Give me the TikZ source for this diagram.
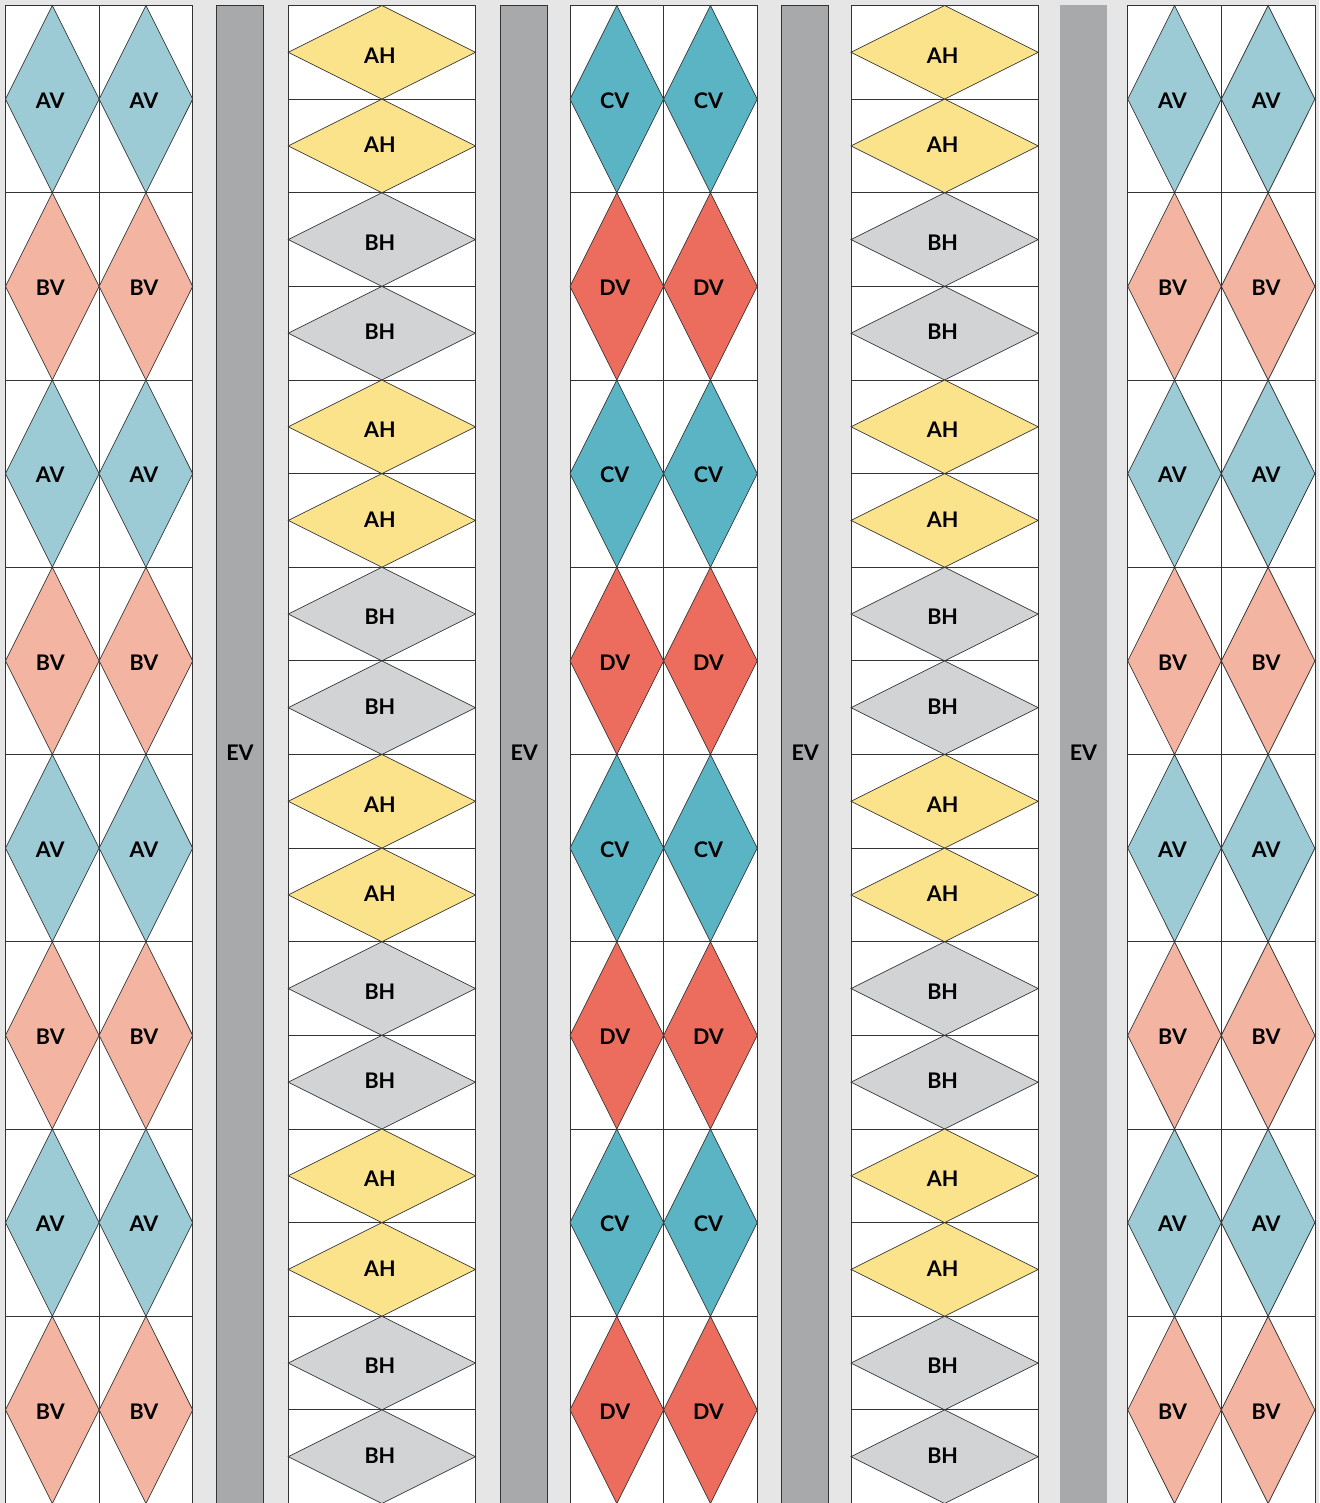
\documentclass[tikz,border=0pt]{standalone}
\usepackage{fontspec}
\setmainfont{Lato}
\usetikzlibrary{positioning}
\definecolor{bggray}{HTML}{E6E6E6}
\definecolor{evgray}{HTML}{A8A9AB}
\definecolor{avblue}{HTML}{9CCAD5}
\definecolor{bvsalmon}{HTML}{F4B4A2}
\definecolor{cvteal}{HTML}{5AB4C4}
\definecolor{dvred}{HTML}{EC6D5D}
\definecolor{ahyellow}{HTML}{FBE38B}
\definecolor{bhgray}{HTML}{D2D3D5}
\newcommand{\rowh}{187.25}
\newcommand{\colw}{187.2}

\tikzset{
  cell/.style={draw=black!80, fill=white, line width=0.8pt},
  gem/.style={draw=black!80, line width=0.7pt},
  tag/.style={font=\fontsize{21.5}{24}\selectfont\bfseries, inner sep=0pt},
  evbar/.style={fill=evgray, draw=black!80, line width=0.8pt},
}

\begin{document}
\begin{tikzpicture}[x=1pt, y=-1pt]
  % background
  \fill[bggray] (0,0) rectangle (1319,1503);
  \useasboundingbox (0,0) rectangle (1319,1503);

  % columns of upright diamonds
  \foreach \cx/\ca/\la/\cb/\lb [count=\k] in {5.5/avblue/AV/bvsalmon/BV,
      570/cvteal/CV/dvred/DV, 1127.7/avblue/AV/bvsalmon/BV} {
    \foreach \r in {0,...,7} {
      \ifodd\r \edef\fc{\cb}\edef\lab{\lb}\else \edef\fc{\ca}\edef\lab{\la}\fi
      \foreach \s in {0,1} {
        \pgfmathsetmacro\xa{\cx+\s*\colw/2}
        \pgfmathsetmacro\ya{5.5+\r*\rowh}
        \draw[cell] (\xa,\ya) rectangle ++(\colw/2,\rowh);
        \filldraw[gem, fill=\fc] (\xa+\colw/4,\ya) -- (\xa+\colw/2,\ya+\rowh/2)
          -- (\xa+\colw/4,\ya+\rowh) -- (\xa,\ya+\rowh/2) -- cycle;
        \node[tag] (v\k-\r-\s) at (\xa+\colw/4-2,\ya+\rowh/2+1.5) {\lab};
      }
    }
  }

  % columns of flat diamonds
  \foreach \cx [count=\k] in {288.3, 851} {
    \foreach \r in {0,...,15} {
      \pgfmathtruncatemacro\pair{mod(floor(\r/2),2)}
      \ifnum\pair=1 \def\fc{bhgray}\def\lab{BH}\else \def\fc{ahyellow}\def\lab{AH}\fi
      \ifodd\r \def\dy{-1}\else \def\dy{3}\fi
      \pgfmathsetmacro\ya{5.5+\r*\rowh/2}
      \draw[cell] (\cx,\ya) rectangle ++(\colw,\rowh/2);
      \filldraw[gem, fill=\fc] (\cx,\ya+\rowh/4) -- (\cx+\colw/2,\ya)
        -- (\cx+\colw,\ya+\rowh/4) -- (\cx+\colw/2,\ya+\rowh/2) -- cycle;
      \node[tag] (h\k-\r) at (\cx+\colw/2-2,\ya+\rowh/4+\dy) {\lab};
    }
  }

  % EV bars
  \foreach \bx [count=\k] in {216.5, 500.7, 781.7} {
    \draw[evbar] (\bx,5.5) rectangle ++(47,1510);
    \node[tag] (ev\k) at (\bx+23.5,753) {EV};
  }
  \fill[evgray] (1060,5.5) rectangle ++(47,1510);
  \node[tag] (ev4) at (1083.5,753) {EV};
\end{tikzpicture}
\end{document}
